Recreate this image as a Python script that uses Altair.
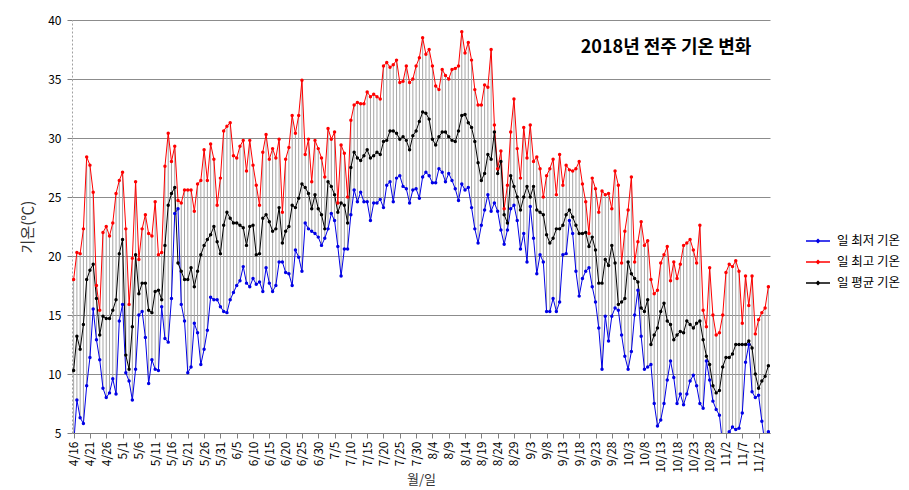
import altair as alt
import pandas as pd

KR = "Noto Sans CJK KR"

chart_title = "2018년 전주 기온 변화"
y_title = "기온(℃)"
x_title = "월/일"
series_names = ["일 최저 기온", "일 최고 기온", "일 평균 기온"]
series_colors = ["#0000e6", "#ff0000", "#000000"]

tick_labels = ['4/16', '4/21', '4/26', '5/1', '5/6', '5/11', '5/16', '5/21', '5/26', '5/31',
               '6/5', '6/10', '6/15', '6/20', '6/25', '6/30', '7/5', '7/10', '7/15', '7/20',
               '7/25', '7/30', '8/4', '8/9', '8/14', '8/19', '8/24', '8/29', '9/3', '9/8',
               '9/13', '9/18', '9/23', '9/28', '10/3', '10/8', '10/13', '10/18', '10/23', '10/28',
               '11/2', '11/7', '11/12']

t_max = [18.0, 20.3, 20.2, 22.3, 28.4, 27.7, 25.4, 17.5, 15.4, 22.0,
         22.5, 21.7, 22.8, 25.3, 26.4, 27.1, 22.3, 15.9, 19.8, 26.3,
         19.7, 22.3, 23.5, 21.9, 21.7, 24.6, 20.1, 20.3, 27.6, 30.4,
         28.0, 29.3, 24.7, 24.5, 25.6, 25.6, 25.6, 23.8, 26.1, 26.4,
         29.0, 26.4, 29.5, 28.2, 24.3, 26.6, 30.6, 31.0, 31.3, 28.5,
         28.3, 29.3, 29.8, 27.2, 29.8, 27.7, 26.0, 24.3, 28.8, 30.3,
         28.2, 29.1, 28.3, 29.9, 23.7, 28.2, 29.2, 31.9, 30.4, 31.9,
         34.9, 28.6, 29.9, 26.3, 29.8, 29.1, 28.3, 26.7, 30.8, 29.9,
         30.5, 24.5, 29.4, 28.7, 25.0, 31.5, 32.8, 33.0, 32.9, 32.9,
         33.9, 33.5, 33.7, 33.5, 33.3, 36.1, 36.4, 36.0, 36.2, 36.6,
         34.7, 34.8, 36.1, 34.7, 35.0, 36.1, 36.8, 38.5, 37.1, 37.5,
         36.1, 34.4, 34.1, 35.8, 35.3, 35.0, 35.8, 35.9, 36.1, 39.0,
         37.2, 38.1, 36.6, 34.1, 32.8, 32.8, 34.5, 34.3, 37.5, 31.1,
         27.4, 28.9, 24.0, 26.0, 30.5, 33.3, 29.1, 26.6, 30.9, 28.3,
         31.1, 28.0, 28.4, 27.4, 25.0, 26.8, 27.4, 28.2, 25.2, 28.6,
         26.0, 27.7, 27.3, 27.2, 27.4, 28.0, 26.1, 24.6, 21.9, 26.6,
         25.7, 23.7, 25.5, 25.2, 25.3, 24.0, 27.2, 26.0, 19.4, 22.1,
         23.9, 26.7, 19.5, 21.2, 22.9, 20.9, 21.3, 18.0, 16.8, 17.1,
         19.4, 20.1, 20.8, 17.9, 19.5, 18.1, 19.3, 20.9, 21.1, 21.4,
         20.5, 19.4, 22.6, 15.4, 14.0, 19.0, 15.0, 13.3, 13.5, 15.0,
         18.6, 19.3, 19.1, 19.6, 18.7, 14.3, 18.3, 15.8, 18.3, 13.4,
         14.6, 15.2, 15.6, 17.4]

t_avg = [10.3, 13.2, 12.1, 14.2, 18.0, 18.8, 19.3, 16.4, 13.3, 14.9,
         14.7, 14.7, 15.4, 16.3, 20.2, 21.4, 11.6, 10.4, 14.0, 20.1,
         16.8, 17.7, 17.7, 15.4, 15.2, 17.0, 17.1, 16.3, 20.9, 24.3,
         25.3, 25.8, 19.4, 18.7, 18.0, 18.0, 19.0, 17.4, 18.7, 20.1,
         20.9, 21.4, 21.8, 22.5, 21.2, 20.2, 22.6, 23.7, 23.2, 22.8,
         22.8, 22.6, 22.4, 20.9, 22.5, 22.6, 20.1, 20.2, 23.2, 23.5,
         22.9, 22.1, 22.3, 24.1, 21.1, 22.1, 22.5, 24.3, 24.1, 24.9,
         26.1, 25.8, 25.3, 24.0, 25.2, 24.0, 23.5, 22.3, 26.3, 25.9,
         25.2, 23.7, 24.5, 24.3, 22.8, 27.5, 28.8, 28.3, 28.1, 28.5,
         29.0, 28.3, 28.5, 28.8, 28.6, 29.7, 29.8, 30.6, 30.6, 30.4,
         29.9, 30.1, 29.8, 29.0, 30.2, 30.6, 31.4, 32.2, 32.1, 31.6,
         29.9, 29.4, 30.1, 30.5, 30.5, 30.1, 29.8, 29.7, 30.6, 31.9,
         32.0, 31.3, 30.9, 29.7, 27.9, 26.4, 27.0, 28.6, 28.2, 30.5,
         27.0, 28.0, 23.5, 22.8, 26.8, 25.9, 25.0, 23.9, 25.0, 25.9,
         25.0, 25.9, 23.9, 23.7, 23.5, 21.8, 21.1, 21.5, 22.3, 22.3,
         22.6, 23.5, 23.9, 23.3, 22.6, 21.9, 21.9, 22.0, 20.8, 21.6,
         20.5, 17.7, 17.7, 19.7, 19.2, 20.9, 19.4, 15.9, 16.1, 16.4,
         19.5, 18.5, 18.1, 17.8, 15.6, 15.3, 16.3, 12.5, 13.3, 13.9,
         15.3, 16.0, 14.5, 14.2, 12.9, 13.3, 13.6, 13.5, 14.5, 14.2,
         13.9, 14.3, 14.5, 12.9, 11.5, 10.8, 9.0, 8.4, 8.6, 10.6,
         11.4, 11.4, 11.7, 12.5, 12.5, 12.5, 12.5, 12.8, 12.2, 10.0,
         8.8, 9.4, 9.8, 10.7]

t_min = [4.0, 7.8, 6.3, 5.8, 9.0, 11.4, 15.5, 12.9, 11.2, 8.8,
         8.0, 8.4, 9.6, 8.3, 14.5, 15.9, 10.1, 9.4, 7.8, 10.4,
         15.0, 15.3, 13.1, 9.2, 11.2, 10.4, 10.3, 15.7, 13.0, 12.7,
         16.4, 23.6, 24.0, 15.9, 14.5, 10.1, 10.6, 14.3, 13.5, 10.8,
         12.1, 13.7, 16.5, 16.3, 16.3, 15.7, 15.3, 15.2, 16.3, 16.9,
         17.5, 17.9, 19.1, 17.7, 17.4, 18.1, 17.6, 17.8, 17.0, 19.0,
         17.7, 17.0, 17.5, 19.5, 19.5, 18.6, 18.5, 17.5, 20.5, 19.9,
         18.7, 22.8, 22.3, 22.1, 21.9, 21.6, 20.9, 21.5, 22.3, 23.6,
         23.0, 20.8, 18.3, 20.6, 20.6, 23.5, 25.6, 24.6, 25.4, 24.6,
         24.6, 23.0, 24.5, 24.5, 24.8, 24.1, 26.0, 26.3, 24.6, 26.6,
         26.8, 25.9, 25.7, 24.5, 25.6, 25.7, 24.9, 26.7, 27.1, 26.8,
         26.2, 26.2, 27.4, 27.1, 26.3, 27.0, 26.4, 25.7, 24.7, 26.1,
         25.6, 25.8, 24.1, 22.3, 21.1, 22.6, 23.9, 25.2, 23.8, 24.5,
         23.8, 22.2, 21.0, 22.2, 24.0, 24.3, 23.0, 20.6, 21.9, 19.5,
         24.2, 21.5, 18.5, 20.1, 19.5, 15.3, 15.3, 16.4, 15.3, 16.1,
         20.1, 20.2, 23.0, 21.9, 18.7, 16.6, 18.1, 18.7, 19.0, 17.4,
         16.1, 13.9, 10.4, 14.9, 12.8, 14.9, 15.6, 15.4, 13.3, 11.5,
         10.4, 11.9, 15.0, 17.1, 13.2, 10.4, 10.6, 10.8, 7.5, 5.6,
         6.1, 7.5, 9.5, 11.1, 9.7, 7.5, 8.3, 7.4, 8.3, 9.4,
         9.9, 9.0, 7.5, 7.1, 11.1, 9.5, 7.7, 7.0, 6.5, 4.0,
         3.5, 5.1, 5.5, 5.3, 5.4, 6.7, 11.0, 12.5, 8.5, 8.0,
         8.2, 6.0, 4.0, 5.1]

n = min(len(t_max), len(t_avg), len(t_min))
dates = pd.date_range("2018-04-16", periods=n)
day_labels = [f"{d.month}/{d.day}" for d in dates]

wide = pd.DataFrame({"date": day_labels, "tmin": t_min[:n], "tmax": t_max[:n]})
long_rows = []
for name, vals in zip(series_names, [t_min, t_max, t_avg]):
    for i, (lab, v) in enumerate(zip(day_labels, vals[:n])):
        long_rows.append({"date": lab, "idx": i, "series": name, "temp": v})
long = pd.DataFrame(long_rows)

x_scale = alt.Scale(type="point", domain=day_labels, padding=0.5)
x_enc = alt.X("date:O", scale=x_scale,
              axis=alt.Axis(values=tick_labels, labelAngle=-90, title=x_title,
                            labelFont=KR, labelFontSize=12, labelColor="#000",
                            titleFont=KR, titleFontSize=13, titleFontWeight="normal",
                            titleColor="#333", tickColor="#808080", tickSize=5,
                            domainColor="#808080", grid=False, labelPadding=3,
                            titlePadding=1))
y_scale = alt.Scale(domain=[5, 40], nice=False, zero=False)
y_axis = alt.Axis(values=[5, 10, 15, 20, 25, 30, 35, 40], title=y_title,
                  labelFont=KR, labelFontSize=12, labelColor="#000",
                  titleFont=KR, titleFontSize=15, titleFontWeight="normal",
                  titleColor="#333", grid=True, gridColor="#8c8c8c",
                  tickColor="#808080", tickSize=5, domainColor="#a0a0a0",
                  domainDash=[2, 2], labelPadding=6, titlePadding=12)

rules = alt.Chart(wide).mark_rule(color="#a6a6a6", strokeWidth=1, clip=True).encode(
    x=x_enc,
    y=alt.Y("tmin:Q", scale=y_scale, axis=y_axis),
    y2="tmax:Q",
)

lines = alt.Chart(long).mark_line(
    strokeWidth=1, clip=True,
    point=alt.OverlayMarkDef(filled=True, size=12, clip=True),
).encode(
    x=alt.X("date:O", scale=x_scale),
    y=alt.Y("temp:Q", scale=y_scale),
    color=alt.Color("series:N",
                    scale=alt.Scale(domain=series_names, range=series_colors),
                    legend=alt.Legend(title=None, orient="none", legendX=733, legendY=208,
                                      symbolType="M-1,0L1,0M0,-0.12L0.12,0L0,0.12L-0.12,0Z",
                                      symbolSize=576, symbolStrokeWidth=1.5,
                                      labelFont=KR, labelFontSize=12.5, labelColor="#000",
                                      labelOffset=6, rowPadding=1)),
    order=alt.Order("idx:Q"),
)

title_df = pd.DataFrame({"t": [chart_title]})
title_mark = alt.Chart(title_df).mark_text(
    font=KR, fontSize=18, fontWeight="bold", color="#000", align="center", baseline="middle"
).encode(text="t:N", x=alt.value(594), y=alt.value(28))

chart = alt.layer(rules, lines, title_mark).properties(
    width=698, height=413,
    autosize=alt.AutoSizeParams(type="none"),
    padding={"left": 72, "top": 20, "right": 139, "bottom": 57},
).configure_view(stroke=None)

chart.save("out.html", embed_options={"renderer": "svg", "actions": False})
